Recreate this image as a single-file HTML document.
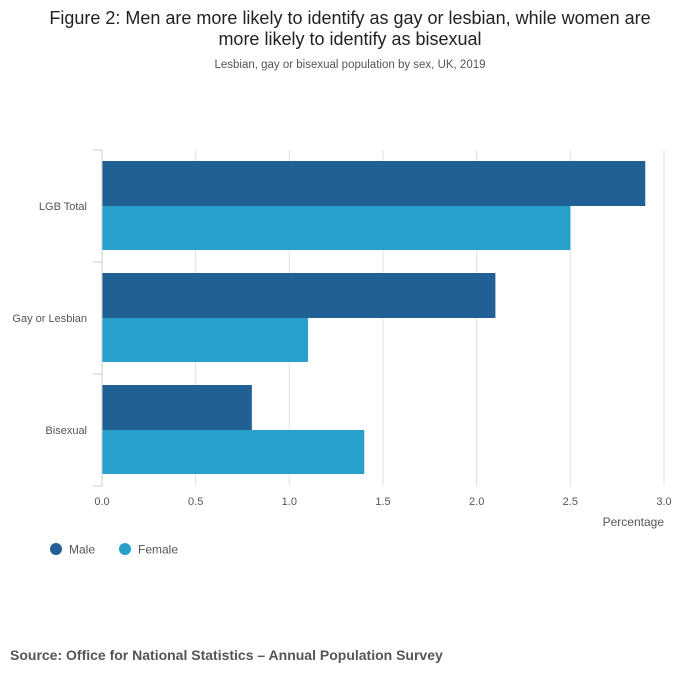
<!DOCTYPE html>
<html><head><meta charset="utf-8"><style>
body{margin:0;background:#fff;font-family:"Liberation Sans",sans-serif;}
</style></head><body>
<svg width="700" height="682" xmlns="http://www.w3.org/2000/svg" id="chart">
<text x="350" y="24" text-anchor="middle" font-size="18" fill="#222">Figure 2: Men are more likely to identify as gay or lesbian, while women are</text>
<text x="350" y="45" text-anchor="middle" font-size="18" fill="#222">more likely to identify as bisexual</text>
<text x="350" y="68" text-anchor="middle" font-size="11.5" fill="#555">Lesbian, gay or bisexual population by sex, UK, 2019</text>
<g id="grid"></g><g id="bars"></g><g id="axes"></g>
<text x="664" y="526" text-anchor="end" font-size="12" fill="#555">Percentage</text>
<g>
<circle cx="56" cy="549" r="6" fill="#206095"/>
<text x="69" y="553.5" font-size="12" fill="#555">Male</text>
<circle cx="125" cy="549" r="6" fill="#27a0cc"/>
<text x="138" y="553.5" font-size="12" fill="#555">Female</text>
</g>
<text x="10" y="660" font-size="14" font-weight="bold" fill="#555">Source: Office for National Statistics – Annual Population Survey</text>
</svg>
<script>
const categories=["LGB Total","Gay or Lesbian","Bisexual"];
const maleValues=[2.9,2.1,0.8];
const femaleValues=[2.5,1.1,1.4];
const xTicks=[0,0.5,1.0,1.5,2.0,2.5,3.0];
const xTickLabels=["0.0","0.5","1.0","1.5","2.0","2.5","3.0"];
const NS="http://www.w3.org/2000/svg";
const x0=102,x1=664,yTop=150,yBottom=486,xmax=3;
const xs=v=>x0+v/xmax*(x1-x0);
const band=(yBottom-yTop)/categories.length;
function mk(tag,attrs,parent){const e=document.createElementNS(NS,tag);for(const k in attrs)e.setAttribute(k,attrs[k]);document.getElementById(parent).appendChild(e);return e;}
xTicks.forEach((t,i)=>{
 if(t>0){const l=mk('line',{x1:xs(t),x2:xs(t),y1:yTop,y2:yBottom,stroke:'#e0e0e0'},'grid');
 
 }
 const tx=mk('text',{x:xs(t),y:505,'text-anchor':'middle','font-size':'11',fill:'#555'},'axes');
 tx.textContent=xTickLabels[i];
 
 
});
categories.forEach((c,i)=>{
 const y=yTop+i*band;
 const m=mk('rect',{x:x0,y:y+11,width:xs(maleValues[i])-x0,height:45,fill:'#206095'},'bars');
 
 
 const f=mk('rect',{x:x0,y:y+56,width:xs(femaleValues[i])-x0,height:44,fill:'#27a0cc'},'bars');
 
 
 const tx=mk('text',{x:87,y:y+band/2+4,'text-anchor':'end','font-size':'11',fill:'#555'},'axes');
 tx.textContent=c;
 
 
});
for(let i=0;i<=categories.length;i++){
 const y=yTop+i*band;
 const tk=mk('line',{x1:93,x2:x0,y1:y,y2:y,stroke:'#ccc'},'axes');
 
 
}
const ax=mk('line',{x1:x0,x2:x0,y1:yTop,y2:yBottom,stroke:'#ccc'},'axes');


</script>
</body></html>
